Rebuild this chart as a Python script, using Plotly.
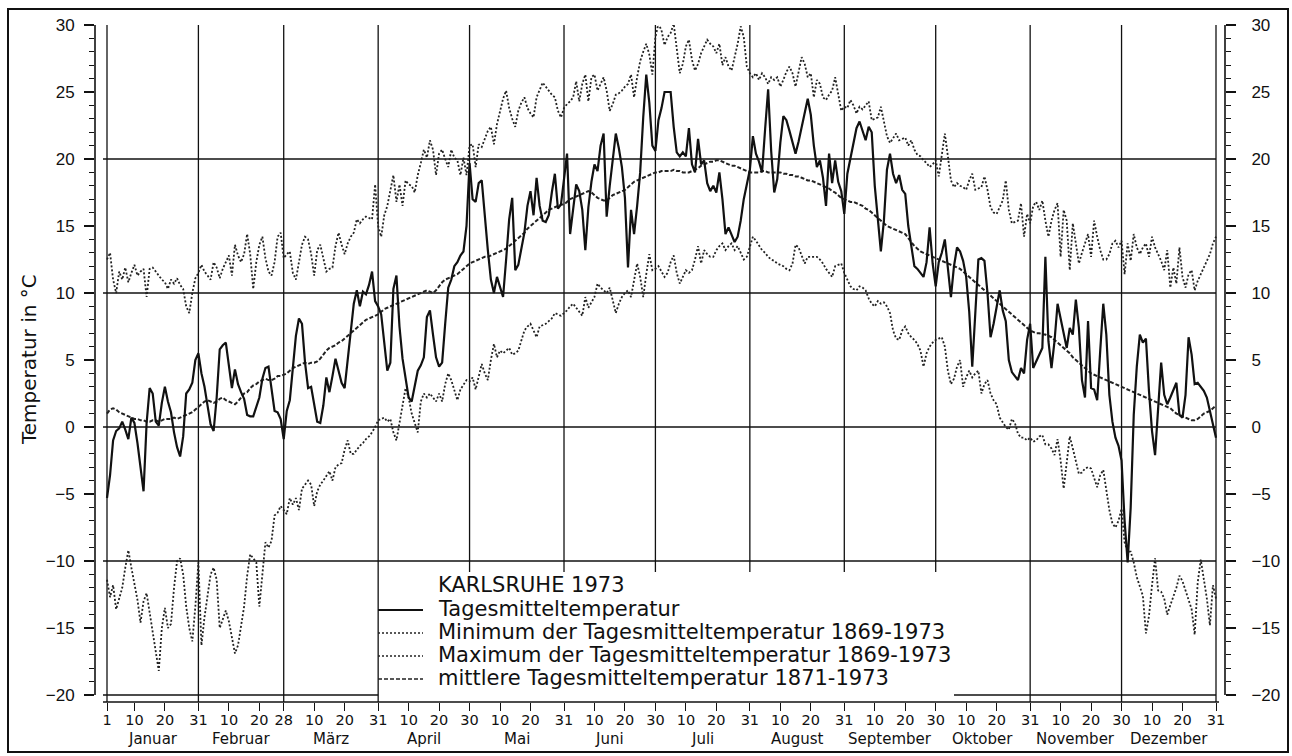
import plotly.graph_objects as go

# ---------------- data ----------------
MONTHS = ["Januar", "Februar", "März", "April", "Mai", "Juni", "Juli",
          "August", "September", "Oktober", "November", "Dezember"]
MONTH_DAYS = [31, 28, 31, 30, 31, 30, 31, 31, 30, 31, 30, 31]

# Tagesmitteltemperatur Karlsruhe 1973 (°C), Jan 1 .. Dec 31
TAGESMITTEL_1973 = [
    -5.3, -3.6, -1.0, -0.3, -0.1, 0.4, -0.2, -0.9, 0.7, 0.3, -1.2, -3.0, -4.8, 0.3, 2.9, 2.5, 0.4, 0.1, 1.8, 3.0,
    1.9, 1.1, -0.4, -1.5, -2.2, -0.7, 2.5, 2.8, 3.3, 5.0, 5.5,
    4.0, 3.0, 1.6, 0.2, -0.3, 2.2, 5.8, 6.1, 6.3, 4.5, 2.9, 4.3, 3.2, 2.6, 2.1, 0.9, 0.8, 0.8, 1.5, 2.2,
    3.6, 4.4, 4.5, 3.0, 1.2, 1.1, 0.6, -0.9,
    1.2, 2.0, 4.5, 6.8, 8.1, 7.7, 4.8, 2.9, 3.0, 1.8, 0.4, 0.3, 1.6, 3.7, 2.6, 3.8, 5.1, 4.2, 3.3, 2.9,
    5.1, 7.4, 9.2, 10.2, 9.0, 10.1, 9.9, 10.6, 11.6, 9.4, 9.0,
    8.4, 6.4, 4.2, 4.8, 10.3, 11.3, 7.5, 5.1, 3.8, 2.2, 1.9, 3.0, 4.2, 4.6, 5.2, 8.2, 8.7, 6.9, 5.2, 4.5,
    4.8, 7.7, 10.4, 11.0, 12.0, 12.3, 12.8, 13.1, 15.0, 19.7,
    17.0, 16.8, 18.2, 18.4, 15.5, 13.2, 11.0, 10.0, 11.2, 10.5, 9.7, 12.5, 15.5, 17.1, 11.7, 12.1, 13.2, 14.5, 16.5, 17.6,
    15.8, 18.6, 16.5, 15.4, 15.3, 15.8, 17.5, 18.9, 16.3, 16.6, 18.5,
    20.4, 14.4, 16.5, 18.1, 17.6, 16.2, 13.2, 16.4, 18.3, 19.6, 19.1, 21.0, 21.9, 15.7, 18.0, 19.9, 21.9, 20.8, 19.4, 17.1,
    11.9, 16.2, 14.4, 16.5, 19.0, 23.1, 26.3, 24.2, 21.0, 20.6,
    22.9, 23.8, 25.0, 25.0, 25.0, 22.4, 20.5, 20.2, 20.5, 20.2, 22.3, 19.6, 19.0, 21.5, 19.6, 19.9, 18.2, 17.6, 18.0, 17.5,
    19.0, 17.0, 14.4, 14.9, 14.4, 13.8, 14.2, 15.4, 17.0, 18.2, 19.2,
    21.7, 20.4, 19.8, 19.0, 22.2, 25.2, 20.6, 17.5, 18.5, 21.2, 23.2, 22.9, 22.1, 21.2, 20.4, 21.3, 22.4, 23.5, 24.5, 23.3,
    21.0, 19.4, 19.9, 18.6, 16.5, 20.4, 18.2, 19.9, 18.3, 17.6, 15.9,
    18.9, 20.0, 21.2, 22.3, 22.8, 22.1, 21.4, 22.4, 22.0, 18.0, 15.3, 13.1, 15.4, 19.2, 20.4, 18.9, 18.2, 18.8, 17.7, 17.4,
    15.0, 13.5, 12.0, 11.8, 11.5, 11.2, 12.3, 14.9, 12.2, 10.5,
    12.3, 13.0, 14.0, 12.0, 9.7, 12.0, 13.4, 13.1, 12.4, 11.2, 8.6, 4.5, 8.5, 12.5, 12.6, 12.4, 10.0, 6.7, 7.7, 9.0,
    10.2, 8.7, 7.9, 5.0, 4.1, 3.8, 3.5, 4.4, 4.0, 6.5, 7.7,
    4.4, 4.9, 5.4, 5.9, 12.7, 6.4, 4.4, 6.4, 9.2, 8.0, 6.8, 5.9, 7.4, 6.9, 9.5, 7.4, 3.5, 2.2, 7.9, 2.9,
    2.8, 2.0, 5.7, 9.2, 6.9, 2.4, 0.4, -0.8, -1.4, -2.5,
    -7.0, -10.1, -6.0, 0.9, 4.5, 6.9, 6.3, 6.6, 2.7, -0.3, -2.1, 1.5, 4.8, 2.4, 1.7, 2.2, 2.8, 3.3, 0.9, 0.7,
    2.4, 6.7, 5.4, 3.2, 3.3, 3.0, 2.7, 2.2, 1.2, 0.4, -0.8,
]

# Minimum der Tagesmitteltemperatur 1869-1973 (°C)
MINIMUM_1869_1973 = [
    -11.4, -12.7, -11.8, -13.6, -12.8, -12.0, -10.5, -9.2, -10.5, -11.8, -12.9, -14.6, -13.0, -12.4, -13.9, -15.5, -17.0, -18.2, -15.0, -13.5,
    -15.0, -14.7, -12.0, -10.0, -9.8, -11.0, -13.4, -15.0, -16.0, -13.4, -10.1,
    -16.3, -14.2, -12.5, -11.0, -10.5, -11.4, -15.0, -14.3, -13.7, -14.5, -15.6, -16.9, -16.3, -15.0, -13.4, -11.1, -9.5, -9.8, -10.1, -13.4,
    -11.0, -8.6, -9.0, -8.5, -6.6, -6.4, -5.9, -6.2,
    -6.5, -5.3, -5.8, -5.3, -6.2, -4.6, -4.3, -4.0, -4.3, -5.9, -4.8, -4.3, -4.0, -3.6, -3.3, -4.0, -3.0, -2.8, -2.7, -1.7,
    -1.0, -2.0, -2.0, -1.7, -1.4, -1.2, -0.9, -0.7, -0.4, 0.0, 0.5,
    0.6, 0.7, 0.4, 0.6, -0.4, -1.0, 0.3, 1.5, 2.9, 2.2, 1.0, 0.3, -0.4, 1.9, 2.5, 2.2, 2.5, 2.2, 1.9, 2.5,
    1.9, 3.2, 4.0, 3.5, 2.8, 2.0, 2.8, 3.2, 3.5, 3.4,
    3.7, 2.8, 3.8, 4.7, 4.0, 3.5, 5.0, 6.2, 5.2, 5.7, 5.5, 5.7, 5.9, 5.4, 5.5, 5.7, 6.4, 7.2, 7.5, 7.7,
    7.2, 6.7, 7.5, 7.6, 7.7, 7.9, 8.1, 8.5, 8.4, 8.3, 8.5,
    8.7, 9.0, 9.2, 8.9, 8.6, 8.3, 9.7, 8.9, 9.3, 9.7, 10.7, 10.4, 10.2, 10.0, 10.4, 9.5, 8.5, 9.2, 9.7, 10.0,
    10.2, 9.7, 11.0, 12.2, 11.2, 9.7, 11.4, 12.9, 11.7, 11.8,
    12.0, 11.6, 11.2, 11.5, 12.3, 12.8, 11.5, 10.7, 11.2, 11.7, 11.5, 11.7, 12.5, 13.5, 12.2, 13.2, 12.9, 12.7, 12.7, 13.2,
    13.5, 13.7, 13.2, 13.5, 13.7, 13.2, 13.5, 13.0, 12.5, 12.7, 13.5,
    14.2, 13.9, 13.5, 13.2, 13.0, 12.7, 12.5, 12.4, 12.2, 12.1, 12.0, 11.8, 11.7, 12.2, 13.6, 13.4, 12.8, 12.2, 12.7, 12.7,
    12.7, 12.7, 12.5, 12.2, 11.8, 11.5, 11.2, 12.0, 12.1, 12.2, 11.5,
    11.0, 10.5, 10.3, 10.2, 10.5, 10.4, 10.2, 9.6, 9.2, 9.0, 9.4, 9.2, 9.3, 9.0, 8.5, 7.2, 6.6, 6.5, 7.2, 7.5,
    7.0, 6.7, 6.5, 6.2, 5.7, 4.5, 5.5, 6.0, 6.3, 6.5,
    6.6, 6.7, 6.0, 4.2, 3.2, 3.6, 4.5, 5.0, 3.0, 3.7, 4.2, 3.7, 4.0, 4.2, 2.5, 3.2, 3.5, 2.5, 2.0, 1.7,
    0.7, 0.3, 0.0, -0.2, 0.6, 0.3, -0.5, -0.8, -0.8, -1.0, -0.8,
    -1.1, -1.0, -0.7, -0.6, -1.3, -1.3, -1.6, -2.1, -0.9, -2.5, -4.6, -2.6, -0.7, -1.6, -2.5, -3.5, -3.4, -3.1, -3.0, -3.1,
    -3.8, -4.5, -3.6, -3.2, -4.7, -6.2, -7.2, -7.5, -7.0, -6.1,
    -8.6, -9.3, -9.3, -10.1, -11.2, -11.9, -12.6, -15.4, -14.1, -11.8, -9.8, -12.2, -12.3, -12.8, -14.0, -13.3, -12.6, -12.0, -11.1, -11.5,
    -12.2, -12.9, -13.6, -15.5, -11.6, -9.9, -11.3, -12.8, -14.8, -11.8, -12.8,
]

# Maximum der Tagesmitteltemperatur 1869-1973 (°C)
MAXIMUM_1869_1973 = [
    12.5, 13.0, 11.0, 10.0, 11.6, 11.0, 11.9, 10.8, 11.5, 12.1, 11.3, 11.6, 11.8, 9.7, 11.8, 11.9, 11.6, 11.3, 11.0, 10.8,
    10.3, 11.0, 10.7, 11.1, 10.6, 10.3, 9.0, 8.5, 10.0, 11.1, 11.5,
    12.1, 11.6, 11.3, 11.0, 12.3, 11.9, 11.1, 11.8, 12.3, 12.8, 11.3, 13.6, 12.8, 12.3, 12.9, 14.4, 12.9, 10.3, 12.3, 13.6,
    14.2, 12.6, 11.6, 11.3, 12.3, 14.2, 14.5, 12.6,
    12.9, 13.1, 11.5, 11.0, 12.3, 13.6, 14.2, 14.0, 12.9, 11.3, 13.2, 13.6, 12.6, 11.6, 11.8, 11.9, 13.5, 14.5, 13.6, 12.9,
    13.7, 14.2, 14.5, 15.5, 15.2, 15.5, 15.7, 15.6, 15.5, 18.1, 15.0,
    14.2, 15.8, 16.5, 17.8, 18.8, 16.8, 18.1, 16.5, 18.4, 18.1, 18.0, 17.5, 18.8, 19.7, 20.7, 20.1, 21.4, 20.7, 18.8, 20.4,
    20.7, 20.0, 19.4, 20.7, 20.1, 19.9, 18.8, 20.1, 18.8, 21.0,
    21.1, 19.4, 21.1, 20.9, 21.5, 22.1, 22.4, 21.1, 22.6, 23.6, 24.5, 25.1, 23.8, 23.0, 22.4, 23.6, 24.2, 24.6, 23.8, 23.4,
    23.1, 24.6, 25.1, 25.7, 25.4, 25.1, 24.8, 24.6, 23.6, 23.1, 23.8,
    24.1, 24.3, 24.6, 25.8, 24.3, 25.6, 26.3, 24.3, 26.1, 26.3, 25.1, 25.6, 26.1, 25.1, 23.6, 24.1, 24.8, 24.9, 25.1, 25.4,
    25.6, 26.3, 24.6, 26.1, 27.3, 28.0, 28.6, 27.8, 26.3, 29.1,
    30.1, 29.6, 28.5, 29.1, 29.4, 30.1, 28.1, 26.4, 27.1, 28.4, 28.9, 27.4, 26.6, 27.1, 27.9, 28.4, 28.9, 28.6, 28.4, 27.9,
    28.6, 27.0, 27.6, 26.9, 26.6, 27.6, 28.6, 29.9, 29.1, 26.9, 26.4,
    26.1, 26.4, 25.9, 26.4, 26.1, 25.6, 26.1, 25.9, 26.1, 25.4, 25.9, 26.5, 26.9, 26.4, 25.4, 26.5, 27.6, 27.1, 26.1, 26.4,
    24.6, 25.9, 25.6, 24.6, 24.4, 24.8, 25.1, 26.1, 24.9, 23.6, 23.9,
    23.8, 24.4, 24.0, 23.4, 23.9, 23.7, 24.0, 24.3, 22.9, 23.0, 23.1, 23.9, 22.8, 21.7, 21.2, 21.6, 21.9, 21.4, 21.5, 21.6,
    21.0, 21.4, 20.7, 20.3, 20.2, 19.9, 19.7, 19.4, 19.6, 19.9,
    18.7, 20.2, 21.9, 20.2, 18.4, 17.9, 18.2, 18.0, 17.9, 17.7, 18.4, 18.9, 17.7, 17.8, 17.9, 18.7, 17.7, 16.4, 16.0, 15.9,
    16.4, 16.9, 18.4, 16.2, 15.2, 15.3, 15.4, 16.7, 14.2, 15.9, 15.2,
    16.5, 16.8, 16.2, 16.9, 15.4, 14.2, 15.4, 16.2, 16.7, 12.7, 16.2, 15.4, 11.7, 15.2, 13.7, 12.2, 13.0, 13.7, 14.4, 12.7,
    15.4, 14.2, 13.2, 12.5, 12.5, 12.9, 13.7, 13.9, 13.4, 13.9,
    11.4, 13.7, 12.4, 14.4, 13.4, 12.9, 13.4, 13.7, 12.7, 14.2, 13.4, 12.9, 12.4, 11.7, 13.2, 10.4, 11.9, 10.7, 13.4, 11.2,
    10.4, 11.4, 11.7, 10.2, 10.9, 11.4, 11.9, 12.5, 12.9, 13.7, 14.2,
]

# mittlere Tagesmitteltemperatur 1871-1973 (°C)
MITTEL_1871_1973 = [
    1.0, 1.3, 1.4, 1.3, 1.1, 1.0, 0.9, 0.8, 0.7, 0.6, 0.6, 0.5, 0.5, 0.4, 0.4, 0.5, 0.5, 0.4, 0.5, 0.6,
    0.6, 0.6, 0.7, 0.6, 0.7, 0.8, 0.9, 1.0, 1.1, 1.3, 1.5,
    1.7, 1.9, 2.0, 1.9, 1.8, 1.9, 2.1, 2.2, 2.0, 1.9, 1.8, 1.7, 1.9, 2.2, 2.5, 2.6, 2.9, 3.1, 3.2, 3.4,
    3.5, 3.6, 3.5, 3.5, 3.6, 3.8, 3.8, 3.9,
    4.0, 4.2, 4.4, 4.5, 4.6, 4.7, 4.8, 4.7, 4.8, 4.8, 4.9, 5.1, 5.4, 5.7, 5.9, 6.0, 6.1, 6.3, 6.4, 6.6,
    6.8, 7.0, 7.2, 7.4, 7.6, 7.8, 8.0, 8.1, 8.2, 8.3, 8.4,
    8.6, 8.8, 8.9, 9.0, 9.1, 9.2, 9.3, 9.4, 9.5, 9.6, 9.7, 9.8, 9.9, 10.0, 10.1, 10.2, 10.1, 10.0, 10.2, 10.5,
    10.8, 11.0, 11.1, 11.2, 11.3, 11.4, 11.6, 11.8, 12.0, 12.2,
    12.3, 12.4, 12.5, 12.6, 12.7, 12.7, 12.8, 12.9, 13.0, 13.1, 13.2, 13.3, 13.5, 13.7, 13.9, 14.1, 14.3, 14.5, 14.8, 15.0,
    15.2, 15.4, 15.6, 15.8, 16.0, 16.2, 16.3, 16.4, 16.5, 16.6, 16.6,
    16.8, 17.0, 17.1, 17.2, 17.3, 17.4, 17.5, 17.6, 17.5, 17.3, 17.1, 17.0, 16.9, 16.9, 17.1, 17.3, 17.4, 17.5, 17.6, 17.7,
    17.9, 18.1, 18.3, 18.4, 18.5, 18.6, 18.7, 18.8, 18.9, 19.0,
    19.0, 19.1, 19.1, 19.1, 19.1, 19.2, 19.1, 19.1, 19.0, 19.0, 19.0, 19.1, 19.2, 19.3, 19.5, 19.6, 19.7, 19.8, 19.8, 19.9,
    19.9, 19.8, 19.7, 19.6, 19.5, 19.5, 19.4, 19.3, 19.2, 19.1, 19.0,
    19.0, 19.0, 19.0, 19.1, 19.1, 19.0, 19.0, 19.0, 19.0, 19.0, 18.9, 18.9, 18.8, 18.8, 18.7, 18.7, 18.6, 18.5, 18.4, 18.4,
    18.3, 18.2, 18.1, 18.0, 17.9, 17.8, 17.6, 17.5, 17.3, 17.1, 17.0,
    16.9, 16.8, 16.8, 16.7, 16.6, 16.5, 16.3, 16.2, 16.0, 15.8, 15.6, 15.4, 15.2, 15.0, 14.9, 14.8, 14.7, 14.6, 14.5, 14.4,
    14.1, 13.8, 13.5, 13.3, 13.1, 13.0, 12.9, 12.8, 12.7, 12.6,
    12.5, 12.4, 12.3, 12.2, 12.1, 12.0, 11.9, 11.8, 11.6, 11.4, 11.2, 11.0, 10.8, 10.6, 10.4, 10.2, 10.0, 9.8, 9.6, 9.4,
    9.2, 9.0, 8.8, 8.6, 8.4, 8.2, 8.0, 7.8, 7.6, 7.4, 7.2,
    7.1, 7.0, 7.0, 6.9, 6.9, 6.8, 6.7, 6.5, 6.3, 6.1, 5.9, 5.7, 5.5, 5.2, 5.0, 4.8, 4.6, 4.4, 4.2, 4.0,
    3.9, 3.8, 3.7, 3.6, 3.5, 3.4, 3.3, 3.2, 3.1, 3.0,
    2.9, 2.8, 2.7, 2.6, 2.5, 2.4, 2.3, 2.2, 2.1, 2.0, 1.9, 1.8, 1.7, 1.6, 1.5, 1.4, 1.2, 1.0, 0.9, 0.8,
    0.7, 0.6, 0.5, 0.5, 0.6, 0.8, 1.0, 1.1, 1.2, 1.4, 1.6,
]

LEGEND_TITLE = "KARLSRUHE 1973"
SERIES_NAMES = [
    "Tagesmitteltemperatur",
    "Minimum der Tagesmitteltemperatur 1869-1973",
    "Maximum der Tagesmitteltemperatur 1869-1973",
    "mittlere Tagesmitteltemperatur 1871-1973",
]
Y_TITLE = "Temperatur in °C"
Y_MAJOR_TICKS = [-20, -15, -10, -5, 0, 5, 10, 15, 20, 25, 30]
H_GRID_VALUES = [-10, 0, 10, 20]

for name, arr in [("T", TAGESMITTEL_1973), ("MIN", MINIMUM_1869_1973),
                  ("MAX", MAXIMUM_1869_1973), ("MEAN", MITTEL_1871_1973)]:
    if len(arr) != 365:
        raise ValueError(f"{name} has {len(arr)} values")

days = list(range(1, 366))

# month boundary days and tick positions
month_end = []
acc = 0
for n in MONTH_DAYS:
    acc += n
    month_end.append(acc)
month_start = [e - n + 1 for e, n in zip(month_end, MONTH_DAYS)]

tickvals, ticktext = [1], ["1"]
for s, e, n in zip(month_start, month_end, MONTH_DAYS):
    tickvals += [s + 9, s + 19, e]
    ticktext += ["10", "20", str(n)]

# ---------------- geometry (pixels) ----------------
W, H = 1292, 756
L, R, T, B = 95, 1225, 25, 702          # plot-area box in pixels
PX_PER_DAY = (1216 - 107) / 364.0
X0 = 1 - (107 - L) / PX_PER_DAY
X1 = 1 + (R - 107) / PX_PER_DAY
PX_PER_DEG = 13.4
Y1 = 30.0
Y0 = 30.0 - (B - T) / PX_PER_DEG


def pxx(px):
    return (px - L) / (R - L)


def pyy(py):
    return (B - py) / (B - T)


INK = "#111111"
LEG_FONT = "DejaVu Sans"
NUM_FONT = "Liberation Sans"

STYLE_T = dict(color=INK, width=2.2)
STYLE_MIN = dict(color="#222222", width=1.8, dash="2px,2px")
STYLE_MAX = dict(color="#222222", width=1.8, dash="2px,2px")
STYLE_MEAN = dict(color="#222222", width=2.0, dash="4px,2px")

fig = go.Figure()
for arr, style in [(MINIMUM_1869_1973, STYLE_MIN), (MAXIMUM_1869_1973, STYLE_MAX),
                   (MITTEL_1871_1973, STYLE_MEAN), (TAGESMITTEL_1973, STYLE_T)]:
    fig.add_trace(go.Scatter(x=days, y=arr, mode="lines", line=style,
                             showlegend=False, hoverinfo="skip"))
# invisible trace so the right-hand axis is drawn
fig.add_trace(go.Scatter(x=[days[0]], y=[MITTEL_1871_1973[0]], yaxis="y2", mode="markers",
                         marker=dict(opacity=0), showlegend=False, hoverinfo="skip"))

shapes = []
# vertical grid lines at month ends (cut above the legend box)
legend_left_day, legend_right_day = 90, 279
legend_top_val = -10.82
for d in [1] + month_end:
    bottom = legend_top_val if legend_left_day < d < legend_right_day else Y0
    shapes.append(dict(type="line", xref="x", yref="y", x0=d, x1=d, y0=bottom, y1=30,
                       line=dict(color=INK, width=1.3), layer="below"))
# horizontal grid lines
xl = X0 + (103 - L) / PX_PER_DAY
for v in H_GRID_VALUES:
    shapes.append(dict(type="line", xref="x", yref="y", x0=xl, x1=365, y0=v, y1=v,
                       line=dict(color=INK, width=1.5), layer="below"))
shapes.append(dict(type="line", xref="x", yref="y", x0=xl, x1=legend_left_day, y0=-20, y1=-20,
                   line=dict(color=INK, width=1.5), layer="below"))
shapes.append(dict(type="line", xref="x", yref="y", x0=legend_right_day, x1=365, y0=-20, y1=-20,
                   line=dict(color=INK, width=1.5), layer="below"))
# axis lines
shapes.append(dict(type="line", xref="paper", yref="y", x0=0, x1=0, y0=-20, y1=30,
                   line=dict(color=INK, width=1.6)))
shapes.append(dict(type="line", xref="paper", yref="y", x0=1, x1=1, y0=-20, y1=30,
                   line=dict(color=INK, width=1.6)))
shapes.append(dict(type="line", xref="x", yref="paper", x0=xl, x1=365 + 3 / PX_PER_DAY, y0=0, y1=0,
                   line=dict(color=INK, width=1.6)))
# outer frame of the figure
shapes.append(dict(type="rect", xref="paper", yref="paper",
                   x0=pxx(8), x1=pxx(1288), y0=pyy(752), y1=pyy(9),
                   line=dict(color=INK, width=2)))

annotations = []
# legend
leg_rows = [610, 633, 656, 679]
for name, style, row in zip(SERIES_NAMES, [STYLE_T, STYLE_MIN, STYLE_MAX, STYLE_MEAN], leg_rows):
    shapes.append(dict(type="line", xref="paper", yref="paper",
                       x0=pxx(378), x1=pxx(423), y0=pyy(row), y1=pyy(row),
                       line=dict(color=style["color"], width=style["width"] * 0.8,
                                 dash=style.get("dash", "solid"))))
    annotations.append(dict(text=name, xref="paper", yref="paper", x=pxx(436), y=pyy(row - 1),
                            xanchor="left", yanchor="middle", showarrow=False,
                            font=dict(family=LEG_FONT, size=21, color=INK)))
annotations.append(dict(text=LEGEND_TITLE, xref="paper", yref="paper", x=pxx(436), y=pyy(585),
                        xanchor="left", yanchor="middle", showarrow=False,
                        font=dict(family=LEG_FONT, size=21, color=INK)))
# month names
prev = 1
for name, e in zip(MONTHS, month_end):
    annotations.append(dict(text=name, xref="x", yref="paper", x=(prev + e) / 2, y=pyy(739),
                            xanchor="center", yanchor="middle", showarrow=False,
                            font=dict(family=LEG_FONT, size=15, color=INK)))
    prev = e
# y-axis title
annotations.append(dict(text=Y_TITLE, xref="paper", yref="paper", x=pxx(29), y=pyy(360),
                        xanchor="center", yanchor="middle", textangle=-90, showarrow=False,
                        font=dict(family=LEG_FONT, size=20, color=INK)))

yaxis_common = dict(range=[Y0, Y1], tickvals=Y_MAJOR_TICKS, ticks="outside", ticklen=10,
                    tickwidth=1.5, tickcolor=INK, showgrid=False, zeroline=False, showline=False,
                    tickfont=dict(family=NUM_FONT, size=17, color=INK),
                    minor=dict(dtick=1, tick0=0, ticks="outside", ticklen=5, tickwidth=1.2,
                               tickcolor=INK, showgrid=False))

fig.update_layout(
    width=W, height=H,
    margin=dict(l=L, r=W - R, t=T, b=H - B, pad=0),
    paper_bgcolor="white", plot_bgcolor="white",
    showlegend=False,
    xaxis=dict(range=[X0, X1], tickvals=tickvals, ticktext=ticktext, ticks="outside",
               ticklen=8, tickwidth=1.3, tickcolor=INK, showgrid=False, zeroline=False,
               showline=False, tickangle=0, ticklabelstandoff=-3,
               tickfont=dict(family=LEG_FONT, size=14.5, color=INK)),
    yaxis=dict(**yaxis_common, ticklabelstandoff=6),
    yaxis2=dict(**yaxis_common, overlaying="y", side="right", anchor="x", ticklabelstandoff=12),
    shapes=shapes,
    annotations=annotations,
)

fig.write_html("out.html", config={"displayModeBar": False},
               post_script="document.body.style.margin='0px';document.body.style.overflow='hidden';")
